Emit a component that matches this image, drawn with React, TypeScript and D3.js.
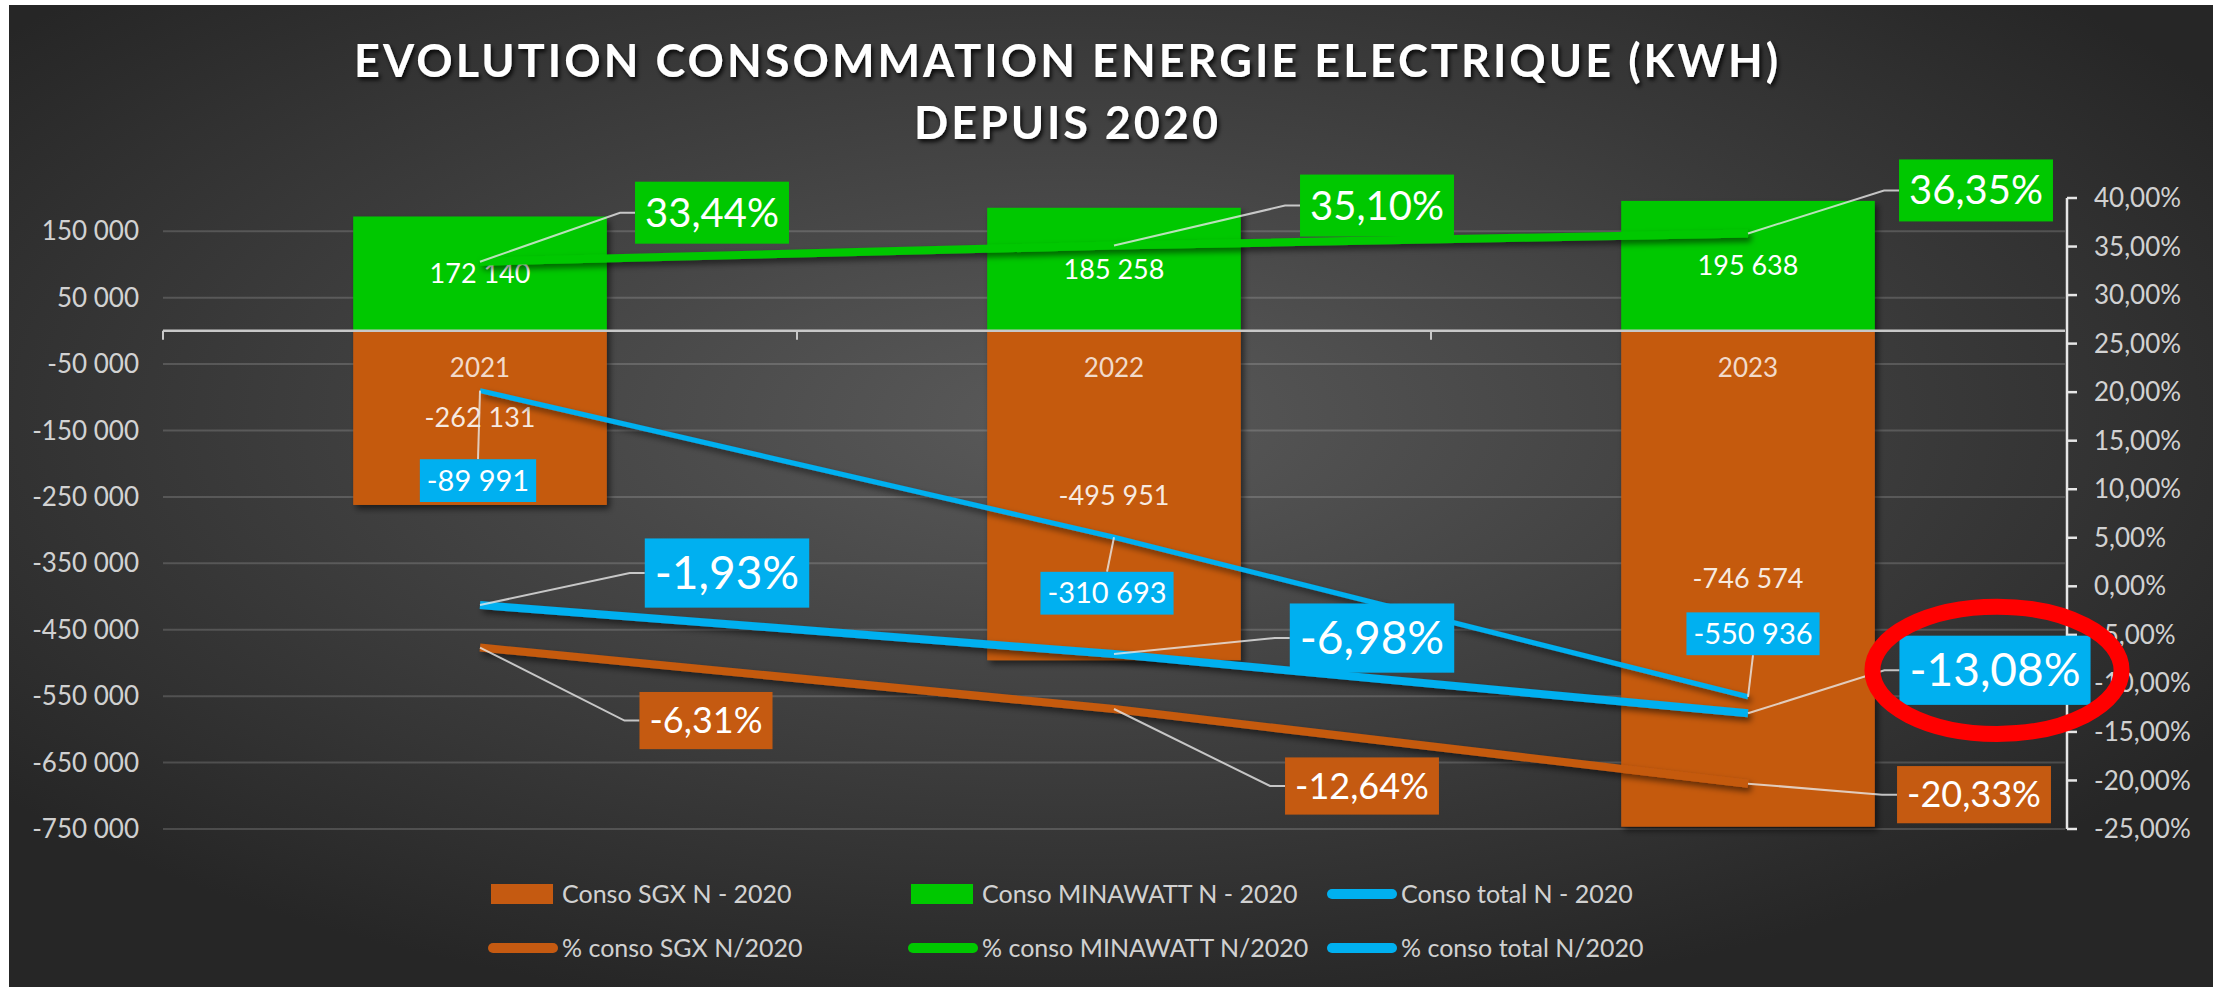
import React from 'react';
import * as d3 from 'd3';

// ---------- data ----------
const categories = ['2021', '2022', '2023'];
const consoSGX = [-262131, -495951, -746574];
const consoMinawatt = [172140, 185258, 195638];
const consoTotal = [-89991, -310693, -550936];
const pctSGX = [-6.31, -12.64, -20.33];
const pctMinawatt = [33.44, 35.1, 36.35];
const pctTotal = [-1.93, -6.98, -13.08];
const leftTicks = [-750000, -650000, -550000, -450000, -350000, -250000, -150000, -50000, 50000, 150000];
const rightTicks = [-25, -20, -15, -10, -5, 0, 5, 10, 15, 20, 25, 30, 35, 40];
const titleLines = ['EVOLUTION CONSOMMATION ENERGIE ELECTRIQUE (KWH)', 'DEPUIS 2020'];
const legendLabels = [
  'Conso SGX N - 2020',
  'Conso MINAWATT N - 2020',
  'Conso total N - 2020',
  '% conso SGX N/2020',
  '% conso MINAWATT N/2020',
  '% conso total N/2020',
];

// ---------- style ----------
const W = 2221;
const H = 987;
const ORANGE = '#c55a11';
const GREEN = '#00c800';
const BLUE = '#00b0f0';
const FONT = 'Lato, "Open Sans", sans-serif';

// label box offsets (box centre relative to the data point), in px
const offGreenPct = [[232, -49], [263, -40], [228, -43]];
const offBluePct = [[247, -32], [258, -16], [247, -43]];
const offOrangePct = [[226, 73], [248, 77], [226, 11]];
const offBlueVal = [[-2, 90], [-7, 56], [5, -63]];

const locale = d3.formatLocale({ decimal: ',', thousands: ' ', grouping: [3], currency: ['', ''], minus: '-' });
const fmtInt = locale.format(',');
const fmtPct = (v: number) => locale.format('.2f')(v) + '%';

let _ctx: CanvasRenderingContext2D | null = null;
function measure(t: string, size: number, weight = 400) {
  if (!_ctx) _ctx = document.createElement('canvas').getContext('2d');
  if (!_ctx) return t.length * size * 0.55;
  _ctx.font = `${weight} ${size}px Lato`;
  return _ctx.measureText(t).width;
}

type Box = { cx: number; cy: number; w: number; h: number; px: number; py: number; text: string; size: number };

function makeBox(px: number, py: number, off: number[], text: string, size: number, padX: number, padY: number): Box {
  const w = measure(text, size) + 2 * padX;
  const h = size * 1.2 + 2 * padY;
  return { cx: px + off[0], cy: py + off[1], w, h, px, py, text, size };
}

function leader(b: Box) {
  const left = b.cx - b.w / 2;
  if (Math.abs(b.cx - b.px) > b.w / 2) {
    return `M${b.px},${b.py}L${left - 15},${b.cy}L${left},${b.cy}`;
  }
  const edge = b.py < b.cy ? b.cy - b.h / 2 : b.cy + b.h / 2;
  return `M${b.px},${b.py}L${b.cx},${edge}`;
}

export default function App() {
  const M = { left: 163, right: 2065, top: 198, bottom: 829 };
  const x = d3.scaleBand<string>().domain(categories).range([M.left, M.right]).paddingInner(0.6).paddingOuter(0.3);
  const yL = d3.scaleLinear().domain([-750000, 200000]).range([M.bottom, M.top]);
  const yR = d3.scaleLinear().domain([-25, 40]).range([M.bottom, M.top]);
  const cxOf = (c: string) => (x(c) as number) + x.bandwidth() / 2;
  const step = x.step();
  const boundaries = d3.range(categories.length + 1).map((i) => M.left + i * step);

  const lineL = d3.line<number>().x((_, i) => cxOf(categories[i])).y((d) => yL(d));
  const lineR = d3.line<number>().x((_, i) => cxOf(categories[i])).y((d) => yR(d));

  const greenPctBoxes = pctMinawatt.map((v, i) => makeBox(cxOf(categories[i]), yR(v), offGreenPct[i], fmtPct(v), 40, 10, 7));
  const bluePctBoxes = pctTotal.map((v, i) => makeBox(cxOf(categories[i]), yR(v), offBluePct[i], fmtPct(v), 46, 10, 7));
  const orangePctBoxes = pctSGX.map((v, i) => makeBox(cxOf(categories[i]), yR(v), offOrangePct[i], fmtPct(v), 36, 10, 7));
  const blueValBoxes = consoTotal.map((v, i) => makeBox(cxOf(categories[i]), yL(v), offBlueVal[i], fmtInt(v), 29, 7, 4));

  const boxGroups: { boxes: Box[]; fill: string }[] = [
    { boxes: greenPctBoxes, fill: GREEN },
    { boxes: orangePctBoxes, fill: ORANGE },
    { boxes: blueValBoxes, fill: BLUE },
    { boxes: bluePctBoxes, fill: BLUE },
  ];

  const hl = bluePctBoxes[2];

  const legendCols = [491, 911, 1330];
  const legendRows = [894, 948];
  const legendColors = [ORANGE, GREEN, BLUE, ORANGE, GREEN, BLUE];
  const legendKinds = ['rect', 'rect', 'line', 'line', 'line', 'line'];

  return (
    <svg width={W} height={H} style={{ position: 'absolute', left: 0, top: 0, display: 'block' }} fontFamily={FONT}>
      <defs>
        <radialGradient id="bg" cx="0.48" cy="0.42" r="0.62">
          <stop offset="0" stopColor="#5a5a5a" />
          <stop offset="1" stopColor="#262626" />
        </radialGradient>
        <filter id="sh" filterUnits="userSpaceOnUse" x="0" y="0" width={W} height={H}>
          <feDropShadow dx="3" dy="4" stdDeviation="3" floodColor="#000" floodOpacity="0.55" />
        </filter>
        <filter id="tsh" filterUnits="userSpaceOnUse" x="0" y="0" width={W} height={H}>
          <feDropShadow dx="2" dy="3" stdDeviation="2" floodColor="#000" floodOpacity="0.85" />
        </filter>
      </defs>
      <rect x={0} y={0} width={W} height={H} fill="#ffffff" />
      <rect x={9} y={5} width={2204} height={H - 5} fill="url(#bg)" />

      {/* title */}
      <g filter="url(#tsh)" fill="#ffffff" fontWeight={700} fontSize={45} textAnchor="middle">
        <text x={1066} y={77} textLength={1424} lengthAdjust="spacing">{titleLines[0]}</text>
        <text x={1066} y={139} textLength={304} lengthAdjust="spacing">{titleLines[1]}</text>
      </g>

      {/* gridlines */}
      {leftTicks.map((t) => (
        <line key={t} x1={M.left} x2={M.right} y1={yL(t)} y2={yL(t)} stroke="#ffffff" strokeOpacity={0.16} strokeWidth={2} />
      ))}

      {/* left axis labels */}
      {leftTicks.map((t) => (
        <text key={t} x={139} y={yL(t)} dy="0.35em" textAnchor="end" fontSize={26} fill="#ffffff" fillOpacity={0.8}>
          {fmtInt(t)}
        </text>
      ))}

      {/* bars */}
      <g filter="url(#sh)">
        {categories.map((c, i) => (
          <g key={c}>
            <rect x={x(c)} y={yL(consoMinawatt[i])} width={x.bandwidth()} height={yL(0) - yL(consoMinawatt[i])} fill={GREEN} />
            <rect x={x(c)} y={yL(0)} width={x.bandwidth()} height={yL(consoSGX[i]) - yL(0)} fill={ORANGE} />
          </g>
        ))}
      </g>

      {/* zero axis */}
      <line x1={M.left} x2={M.right} y1={yL(0)} y2={yL(0)} stroke="#c8c8c8" strokeWidth={2.5} />
      {boundaries.slice(0, 3).map((b, i) => (
        <line key={i} x1={b} x2={b} y1={yL(0)} y2={yL(0) + 9} stroke="#c8c8c8" strokeWidth={2} />
      ))}

      {/* right axis */}
      <line x1={2067} x2={2067} y1={M.top} y2={M.bottom} stroke="#e6e6e6" strokeWidth={2.5} />
      {rightTicks.map((t) => (
        <g key={t}>
          <line x1={2067} x2={2077} y1={yR(t)} y2={yR(t)} stroke="#e6e6e6" strokeWidth={2.5} />
          <text x={2094} y={yR(t)} dy="0.35em" fontSize={26} fill="#ffffff" fillOpacity={0.8}>
            {fmtPct(t)}
          </text>
        </g>
      ))}

      {/* bar value labels and category labels */}
      {categories.map((c, i) => (
        <g key={c} fontSize={27} textAnchor="middle" fill="#ffffff">
          <text x={cxOf(c)} y={(yL(consoMinawatt[i]) + yL(0)) / 2} dy="0.35em">{fmtInt(consoMinawatt[i])}</text>
          <text x={cxOf(c)} y={(yL(consoSGX[i]) + yL(0)) / 2} dy="0.35em" fillOpacity={0.88}>{fmtInt(consoSGX[i])}</text>
          <text x={cxOf(c)} y={yL(0) + 37} dy="0.35em" fontSize={26} fillOpacity={0.8}>{c}</text>
        </g>
      ))}

      {/* lines */}
      <g filter="url(#sh)" fill="none" strokeLinejoin="round">
        <path d={lineL(consoTotal) || ''} stroke={BLUE} strokeWidth={5} />
        <path d={lineR(pctMinawatt) || ''} stroke={GREEN} strokeWidth={8} />
        <path d={lineR(pctSGX) || ''} stroke={ORANGE} strokeWidth={8} />
        <path d={lineR(pctTotal) || ''} stroke={BLUE} strokeWidth={8} />
      </g>

      {/* leader lines */}
      <g fill="none" stroke="#e8e8e8" strokeOpacity={0.8} strokeWidth={2}>
        {boxGroups.flatMap((g, gi) => g.boxes.map((b, i) => <path key={gi + '-' + i} d={leader(b)} />))}
      </g>

      {/* boxed labels */}
      {boxGroups.flatMap((g, gi) =>
        g.boxes.map((b, i) => (
          <g key={gi + '-' + i}>
            <rect x={b.cx - b.w / 2} y={b.cy - b.h / 2} width={b.w} height={b.h} fill={g.fill} />
            <text x={b.cx} y={b.cy} dy="0.35em" textAnchor="middle" fontSize={b.size} fill="#ffffff">{b.text}</text>
          </g>
        ))
      )}

      {/* highlight ellipse */}
      <ellipse cx={hl.cx + 2} cy={hl.cy} rx={hl.w / 2 + 29} ry={hl.h / 2 + 29} fill="none" stroke="#ff0000" strokeWidth={16} />

      {/* legend */}
      {legendLabels.map((lab, i) => {
        const mx = legendCols[i % 3];
        const my = legendRows[Math.floor(i / 3)];
        return (
          <g key={lab}>
            {legendKinds[i] === 'rect' ? (
              <rect x={mx} y={my - 10} width={62} height={20} fill={legendColors[i]} />
            ) : (
              <line x1={mx + 2} x2={mx + 62} y1={my} y2={my} stroke={legendColors[i]} strokeWidth={10} strokeLinecap="round" />
            )}
            <text x={mx + 71} y={my} dy="0.35em" fontSize={25} fill="#ffffff" fillOpacity={0.8}>{lab}</text>
          </g>
        );
      })}
    </svg>
  );
}
